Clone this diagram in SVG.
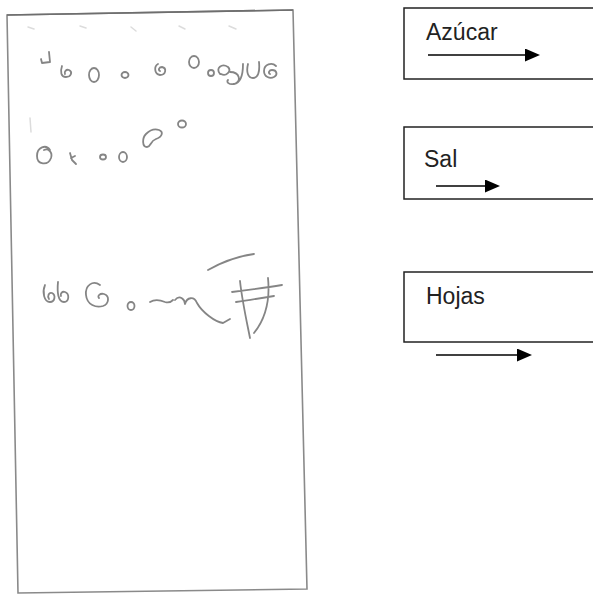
<svg xmlns="http://www.w3.org/2000/svg" width="593" height="595" viewBox="0 0 593 595">
  <style>
    .box { fill: #ffffff; stroke: #222222; stroke-width: 1.5; }
    .label { font-family: "Liberation Sans", Arial, sans-serif; font-size: 23px; fill: #222222; }
    .arrow { stroke: #000000; stroke-width: 1.5; fill: none; }
    .sheet { fill: #ffffff; stroke: #8a8a8a; stroke-width: 1.6; }
    .ink { fill: none; stroke: #858585; stroke-width: 1.8; stroke-linecap: round; stroke-linejoin: round; }
    .faint { fill: none; stroke: #dcdcdc; stroke-width: 1.5; stroke-linecap: round; }
  </style>
  <defs>
    <marker id="head" viewBox="0 0 15 13" refX="0" refY="6.5" markerWidth="15" markerHeight="13" markerUnits="userSpaceOnUse" orient="auto">
      <path d="M0,0 L15,6.5 L0,13 Z" fill="#000000"/>
    </marker>
  </defs>
  <rect width="593" height="595" fill="#ffffff"/>

  <g id="sheet">
    <path class="sheet" d="M7,15 L293,10 L307,589 L18,593 Z"/>
    <path d="M7,15 L293,10" stroke="#6e6e6e" stroke-width="1.6" fill="none"/>
    <g id="scribbles">
      <path class="faint" d="M28,27 L34,29 M80,26 L86,28 M131,27 L136,31 M179,26 L185,29 M229,26 L236,29 M30,118 L31,132"/>
      <path class="ink" d="M49,52 L50,62 L42,63 L41,59"/>
      <path class="ink" d="M62,66 C60,72 61,77 66,77 C71,77 73,72 69,70 C66,69 64,72 65,74"/>
      <ellipse class="ink" cx="94" cy="75" rx="5" ry="7"/>
      <ellipse class="ink" cx="125" cy="75" rx="3.5" ry="3"/>
      <path class="ink" d="M158,64 C154,66 154,74 160,75 C166,75 167,68 162,67 C159,67 158,70 160,71"/>
      <ellipse class="ink" cx="194" cy="62" rx="5" ry="6"/>
      <ellipse class="ink" cx="211" cy="73" rx="3" ry="3"/>
      <path class="ink" d="M220,74 C215,68 222,63 228,67 C232,71 226,77 221,74"/>
      <path class="ink" d="M230,72 C240,72 242,82 234,84 C229,85 226,82 228,80 M234,84 C240,83 243,75 243,64"/>
      <path class="ink" d="M248,64 C246,72 248,78 253,78 C258,78 260,72 259,62"/>
      <path class="ink" d="M276,66 C272,62 264,64 264,71 C264,77 270,79 274,77 C278,75 277,70 272,70 C269,70 268,73 270,74"/>

      <path class="ink" d="M50,150 C46,144 37,147 37,156 C37,165 48,166 51,158 C53,152 48,148 44,150"/>
      <path class="ink" d="M70,153 L72,160 L76,164 M71,158 L75,156"/>
      <ellipse class="ink" cx="103" cy="157" rx="3" ry="2.5"/>
      <ellipse class="ink" cx="123" cy="157" rx="4" ry="5"/>
      <path class="ink" d="M146,134 C142,138 142,147 147,147 C151,147 150,141 156,139 C162,137 164,132 159,130 C153,128 149,131 146,134 Z"/>
      <ellipse class="ink" cx="182" cy="124" rx="4" ry="3.5"/>

      <path class="ink" d="M45,285 C42,292 44,302 50,302 C55,302 56,295 52,293 C49,292 47,296 49,299"/>
      <path class="ink" d="M58,282 C57,292 58,302 64,302 C69,302 70,294 65,292 C62,291 60,294 61,296"/>
      <path class="ink" d="M100,285 C93,280 85,285 86,295 C87,305 96,308 103,306 C109,304 110,296 104,294 C100,293 97,296 99,298"/>
      <ellipse class="ink" cx="131" cy="306" rx="3.5" ry="4"/>
      <path class="ink" d="M150,302 C155,299 160,300 165,302 C168,303 171,302 173,300"/>
      <path class="ink" d="M175,300 C180,294 185,300 185,304 C187,297 194,296 197,303 C202,312 215,322 223,323 L230,319"/>
      <path class="ink" d="M208,270 C222,262 238,256 254,254"/>
      <path class="ink" d="M240,281 C242,300 246,318 250,338 M268,278 C270,298 266,318 254,333 M232,292 C248,290 264,288 282,285 M236,302 C250,300 262,298 274,296"/>
    </g>
  </g>

  <g id="node-azucar">
    <rect class="box" x="404" y="8" width="200" height="71"/>
    <text class="label" x="426" y="40">Azúcar</text>
  </g>
  <g id="node-sal">
    <rect class="box" x="404" y="127" width="200" height="72"/>
    <text class="label" x="424" y="167">Sal</text>
  </g>
  <g id="node-hojas">
    <rect class="box" x="404" y="272" width="200" height="70"/>
    <text class="label" x="426" y="304">Hojas</text>
  </g>

  <g id="connectors">
    <line class="arrow" x1="428" y1="55" x2="525" y2="55" marker-end="url(#head)"/>
    <line class="arrow" x1="436" y1="186" x2="485" y2="186" marker-end="url(#head)"/>
    <line class="arrow" x1="436" y1="355" x2="517" y2="355" marker-end="url(#head)"/>
  </g>
</svg>
